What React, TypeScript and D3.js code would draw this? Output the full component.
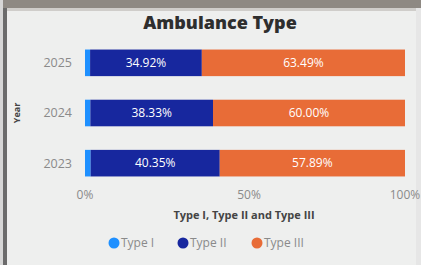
import React from "react";
import * as d3 from "d3";

const years = ["2025", "2024", "2023"];
const typeI = [1.59, 1.67, 1.76];
const typeII = [34.92, 38.33, 40.35];
const typeIII = [63.49, 60.0, 57.89];
const seriesNames = ["Type I", "Type II", "Type III"];
const colors = ["#1E90FF", "#17279E", "#E86C37"];
const xTicks = [0, 50, 100];

const W = 421;
const H = 265;

const App = () => {
  const rows = years.map((y, i) => ({
    year: y,
    vals: [typeI[i], typeII[i], typeIII[i]],
  }));

  const x = d3.scaleLinear().domain([0, 100]).range([85, 405]);
  const y = d3
    .scaleBand()
    .domain(years)
    .range([37, 189])
    .paddingInner(0.47)
    .paddingOuter(0.25);

  const font = "'Open Sans', 'DejaVu Sans', sans-serif";

  // legend layout
  const legendX = [114, 183, 257];

  return (
    <svg
      width={W}
      height={H}
      style={{ position: "absolute", left: 0, top: 0, display: "block" }}
      fontFamily={font}
    >
      <rect x={0} y={0} width={W} height={H} fill="#eeefee" />
      {/* top strip and left frame */}
      <rect x={0} y={0} width={W} height={8} fill="#8e8983" />
      <rect x={0} y={8} width={W} height={3} fill="#cfcdca" />
      <rect x={0} y={0} width={3} height={H} fill="#d6d6d6" />
      <rect x={3} y={8} width={4} height={H} fill="#6b6b6b" />
      <rect x={416} y={8} width={5} height={H} fill="#e6e6e6" />

      <text
        x={220}
        y={29}
        textAnchor="middle"
        fontSize={18}
        fontWeight="800"
        fill="#2e2e2e"
      >
        Ambulance Type
      </text>

      <text
        transform={`translate(20, ${(y.range()[0] + y.range()[1]) / 2}) rotate(-90)`}
        textAnchor="middle"
        fontSize={9}
        fontWeight="bold"
        fill="#444"
      >
        Year
      </text>

      {rows.map((r) => {
        const stack = d3.cumsum(r.vals);
        const by = y(r.year)!;
        const bh = y.bandwidth();
        return (
          <g key={r.year}>
            <text
              x={72}
              y={by + bh / 2}
              dy="0.35em"
              textAnchor="end"
              fontSize={12.5}
              fill="#8a8a8a"
            >
              {r.year}
            </text>
            {r.vals.map((v, j) => {
              const x0 = x(j === 0 ? 0 : stack[j - 1]);
              const x1 = x(stack[j]);
              return (
                <g key={j}>
                  <rect
                    x={x0}
                    y={by}
                    width={x1 - x0}
                    height={bh}
                    fill={colors[j]}
                  />
                  {j > 0 && (
                    <text
                      x={(x0 + x1) / 2}
                      y={by + bh / 2}
                      dy="0.35em"
                      textAnchor="middle"
                      fontSize={12}
                      fill="#ffffff"
                    >
                      {v.toFixed(2)}%
                    </text>
                  )}
                </g>
              );
            })}
          </g>
        );
      })}

      {xTicks.map((t) => (
        <text
          key={t}
          x={x(t) + (t === 50 ? 4 : 0)}
          y={199}
          textAnchor="middle"
          fontSize={12}
          fill="#8a8a8a"
        >
          {t}%
        </text>
      ))}

      <text
        x={244}
        y={219}
        textAnchor="middle"
        fontSize={11}
        fontWeight="bold"
        fill="#444"
      >
        Type I, Type II and Type III
      </text>

      {seriesNames.map((s, i) => (
        <g key={s}>
          <circle cx={legendX[i]} cy={243} r={5.5} fill={colors[i]} />
          <text x={legendX[i] + 7} y={243} dy="0.35em" fontSize={12} fill="#8a8a8a">
            {s}
          </text>
        </g>
      ))}
    </svg>
  );
};

export default App;
